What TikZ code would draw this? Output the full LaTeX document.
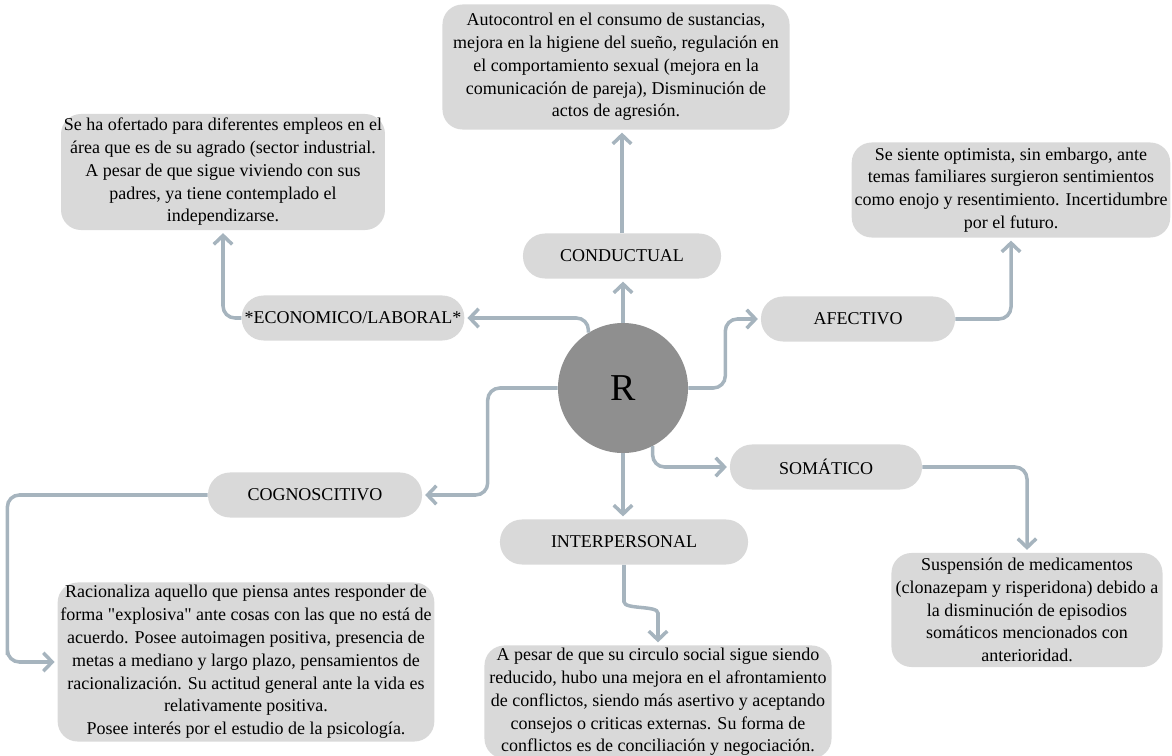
\documentclass[tikz,border=0pt]{standalone}
\usepackage{fontspec}
\setmainfont{Liberation Serif}
\definecolor{boxGray}{RGB}{217, 217, 217}
\definecolor{coreGray}{RGB}{143, 143, 143}
\definecolor{linkBlue}{RGB}{166, 180, 190}
\usetikzlibrary{arrows.meta, positioning, calc}

\begin{document}
\begin{tikzpicture}[x=0.025cm, y=-0.025cm,
    every node/.style={font=\fontsize{12.8}{16.2}\selectfont},
    pill/.style={fill=boxGray, rounded corners=0.55cm, minimum height=1.125cm, inner sep=2pt},
    infobox/.style={fill=boxGray, rounded corners=0.5cm, align=center, inner sep=2pt},
    link/.style={draw=linkBlue, line width=2.5pt, rounded corners=0.3cm,
        -{Straight Barb[length=2.2mm, width=4.6mm]}, shorten >=2pt}]
    \useasboundingbox (0,0) rectangle (1172,756);

    % Central node
    \node[circle, fill=coreGray, minimum size=3.25cm, font=\fontsize{27}{30}\selectfont] (R) at (623,388) {R};

    % Dimension labels
    \node[pill, minimum width=4.95cm] (cond) at (622,256) {CONDUCTUAL};
    \node[pill, minimum width=5.35cm] (econ) at (353,318) {*ECONOMICO/LABORAL*};
    \node[pill, minimum width=4.85cm] (afec) at (858,319) {AFECTIVO};
    \node[pill, minimum width=4.8cm] (soma) at (826,467) {SOMÁTICO};
    \node[pill, minimum width=6.2cm] (inter) at (624,542) {INTERPERSONAL};
    \node[pill, minimum width=5.35cm] (cogn) at (315,495) {COGNOSCITIVO};

    % Descriptions
    \node[infobox, minimum width=8.675cm, minimum height=3.125cm] (condtxt) at (616,67)
        {Autocontrol en el consumo de sustancias,\\
         mejora en la higiene del sueño, regulación en\\
         el comportamiento sexual (mejora en la\\
         comunicación de pareja), Disminución de\\
         actos de agresión.};
    \node[infobox, minimum width=8.075cm, minimum height=2.9cm] (econtxt) at (223,172)
        {Se ha ofertado para diferentes empleos en el\\
         área que es de su agrado (sector industrial.\\
         A pesar de que sigue viviendo con sus\\
         padres, ya tiene contemplado el\\
         independizarse.};
    \node[infobox, minimum width=7.7cm, minimum height=2.375cm] (afectxt) at (1011,190)
        {Se siente optimista, sin embargo, ante\\
         temas familiares surgieron sentimientos\\
         como enojo y resentimiento. Incertidumbre\\
         por el futuro.};
    \node[infobox, minimum width=6.775cm, minimum height=2.85cm] (somatxt) at (1027,610)
        {Suspensión de medicamentos\\
         (clonazepam y risperidona) debido a\\
         la disminución de episodios\\
         somáticos mencionados con\\
         anterioridad.};
    \node[infobox, minimum width=8.675cm, minimum height=2.75cm] (intertxt) at (658,702)
        {A pesar de que su circulo social sigue siendo\\
         reducido, hubo una mejora en el afrontamiento\\
         de conflictos, siendo más asertivo y aceptando\\
         consejos o criticas externas. Su forma de\\
         conflictos es de conciliación y negociación.};
    \node[infobox, minimum width=9.2cm, minimum height=3.975cm] (cogntxt) at (246,662)
        {Racionaliza aquello que piensa antes responder de\\
         forma \textquotedbl explosiva\textquotedbl{} ante cosas con las que no está de\\
         acuerdo. Posee autoimagen positiva, presencia de\\
         metas a mediano y largo plazo, pensamientos de\\
         racionalización. Su actitud general ante la vida es\\
         relativamente positiva.\\
         Posee interés por el estudio de la psicología.};

    % Connectors from the centre
    \draw[link] (R.north) -- (R.north |- cond.south);
    \draw[link] (R.122) |- (econ.east);
    \draw[link] (R.east) -- ++(37,0) |- (afec.west);
    \draw[link] (R.-63) |- (soma.west);
    \draw[link] (R.south) -- (R.south |- inter.north);
    \draw[link] (R.west) -- ++(-70,0) |- (cogn.east);

    % Connectors to the descriptions
    \draw[link] (cond.north) -- (cond.north |- condtxt.south);
    \draw[link] (econ.west) -| (econtxt.south);
    \draw[link] (afec.east) -| (afectxt.south);
    \draw[link] (soma.east) -| (somatxt.north);
    \draw[link] (inter.south) -- ++(0,25) .. controls +(0,20) and +(0,-20) .. ([yshift=0.5cm]intertxt.north) -- (intertxt.north);
    \draw[link] (cogn.west) -| ([xshift=-1.25cm]cogntxt.west) |- (cogntxt.west);
\end{tikzpicture}
\end{document}
